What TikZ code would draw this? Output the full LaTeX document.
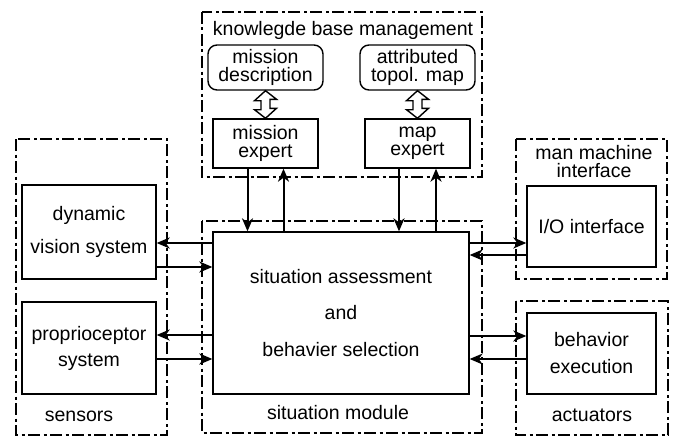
\documentclass[tikz,border=0pt]{standalone}
\usepackage{fontspec}
\setmainfont{Liberation Sans}
\usetikzlibrary{arrows.meta}

\tikzset{
	box/.style={draw, line width=1.4pt, align=center, inner sep=0pt, font=\fontsize{19.5}{18}\selectfont},
	rbox/.style={box, rounded corners=9pt},
	frame/.style={line width=2pt, dash pattern=on 12pt off 3.5pt on 3pt off 3.5pt},
	lbl/.style={align=center, inner sep=0pt, font=\fontsize{19.5}{18}\selectfont},
	arr/.style={line width=2pt, -{Stealth[length=13pt, width=11pt, inset=4pt]}},
	dblarr/.style={draw, line width=1.4pt, line join=miter},
}

\begin{document}
\begin{tikzpicture}[x=1pt, y=-1pt]
	\useasboundingbox (0,0) rectangle (674,436);
	% dash-dotted frames
	\foreach \xa/\ya/\xb/\yb in {202/12/482/177, 16/139/167/435, 202/221/482/433, 516/139/667/279, 516/301/668/435}
		\draw[frame] (\xa,\ya) rectangle (\xb,\yb);

	% frame labels
	\node[lbl] (kbm) at (343,30) {knowlegde base management};
	\node[lbl] (mmi) at (594,162) {man machine\\interface};
	\node[lbl] (sns) at (79,416) {sensors};
	\node[lbl] (sm) at (338,413) {situation module};
	\node[lbl] (act) at (592,415) {actuators};

	% knowledge base
	\node[rbox, minimum width=115pt, minimum height=45pt] (md) at (265.5,67.5) {mission\\description};
	\node[rbox, minimum width=115pt, minimum height=45pt] (atm) at (417.5,67.5) {attributed\\topol. map};
	\node[box, minimum width=105pt, minimum height=49pt] (me) at (265.5,143.5) {mission\\expert};
	\node[box, minimum width=105pt, minimum height=49pt] (mape) at (417.5,143.5) {map\\expert};

	% hollow double arrows
	\foreach \top/\bot in {md/me, atm/mape}
		\draw[dblarr] (\top.south) -- ++(-11,10) -- ++(6.5,0) -- ++(0,9) -- ++(-6.5,0) -- (\bot.north)
			-- ++(11,-10) -- ++(-6.5,0) -- ++(0,-9) -- ++(6.5,0) -- cycle;

	% situation module, sensors, actuators
	\node[box, minimum width=256pt, minimum height=162pt] (sa) at (341,313) {situation assessment\\[18.5pt]and\\[18.5pt]behavier selection};
	\node[box, minimum width=134pt, minimum height=94pt] (dvs) at (89,232) {dynamic\\[14pt]vision system};
	\node[box, minimum width=134pt, minimum height=92pt] (pro) at (89,348) {proprioceptor\\[8pt]system};
	\node[box, minimum width=129pt, minimum height=81pt] (io) at (591.5,226.5) {I/O interface};
	\node[box, minimum width=129pt, minimum height=81pt] (be) at (591.5,353.5) {behavior\\[9pt]execution};

	% arrows
	\draw[arr] ([xshift=-18pt]me.south) -- ([xshift=-18pt]me.south |- sa.north);
	\draw[arr] ([xshift=18pt]me.south |- sa.north) -- ([xshift=18pt]me.south);
	\draw[arr] ([xshift=-18.5pt]mape.south) -- ([xshift=-18.5pt]mape.south |- sa.north);
	\draw[arr] ([xshift=18.5pt]mape.south |- sa.north) -- ([xshift=18.5pt]mape.south);

	\draw[arr] ([yshift=-11pt]dvs.east -| sa.west) -- ([yshift=-11pt]dvs.east);
	\draw[arr] ([yshift=-35pt]dvs.east) -- ([yshift=-35pt]dvs.east -| sa.west);
	\draw[arr] ([yshift=13pt]pro.east -| sa.west) -- ([yshift=13pt]pro.east);
	\draw[arr] ([yshift=-11pt]pro.east) -- ([yshift=-11pt]pro.east -| sa.west);

	\draw[arr] ([yshift=-16.5pt]io.west -| sa.east) -- ([yshift=-16.5pt]io.west);
	\draw[arr] ([yshift=-28.5pt]io.west) -- ([yshift=-28.5pt]io.west -| sa.east);
	\draw[arr] ([yshift=17.5pt]be.west -| sa.east) -- ([yshift=17.5pt]be.west);
	\draw[arr] ([yshift=-5.5pt]be.west) -- ([yshift=-5.5pt]be.west -| sa.east);
\end{tikzpicture}
\end{document}
